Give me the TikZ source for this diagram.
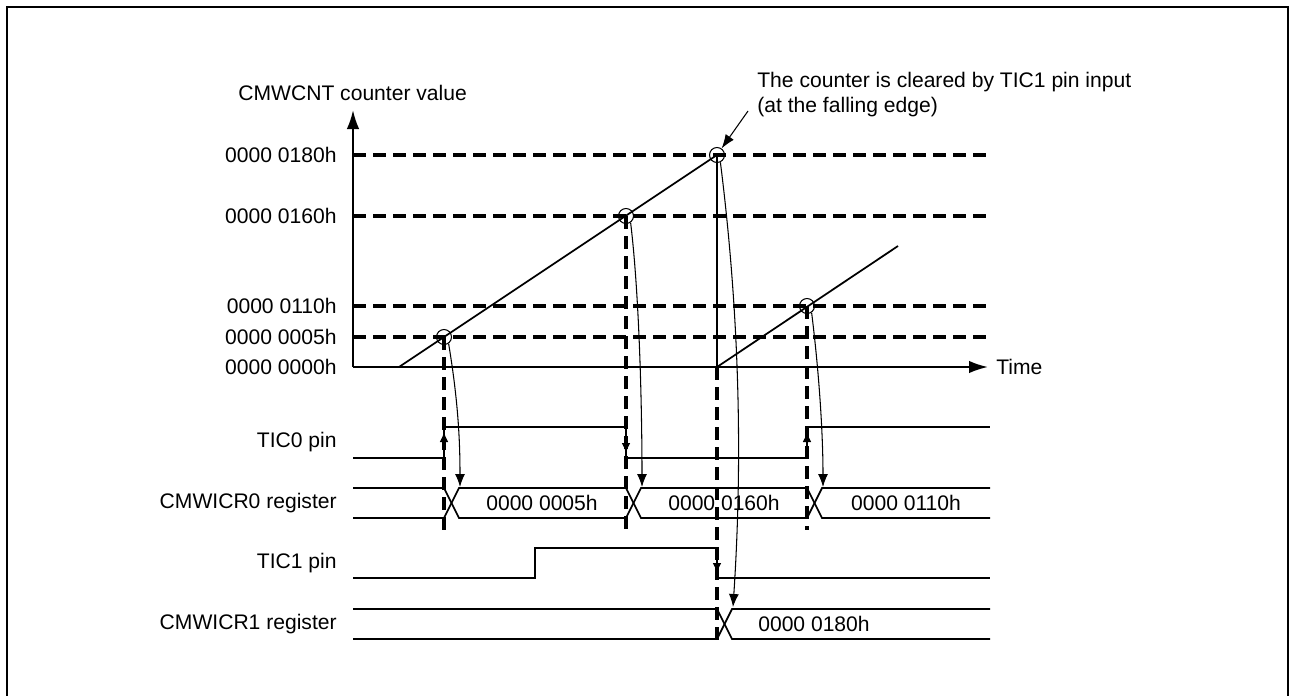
\documentclass[tikz,border=0pt]{standalone}
\usepackage{fontspec}
\setmainfont{Liberation Sans}
\usetikzlibrary{arrows.meta,positioning,calc}
\tikzset{
  lbl/.style={font=\fontsize{12}{14.2}\selectfont, inner sep=0pt},
  leftlbl/.style={lbl, anchor=east},
  sig/.style={line width=1pt},
  guide/.style={line width=2pt, dash pattern=on 2.6mm off 1.4mm},
  axisarrow/.style={line width=1.2pt, -{Latex[length=3.8mm,width=2.5mm]}},
  edgearrow/.style={line width=1.4pt, -{Latex[length=2mm,width=1.8mm]}},
  curvearrow/.style={line width=0.6pt, -{Latex[length=2.6mm,width=2mm]}},
  hitc/.style={draw, circle, line width=0.6pt, minimum size=3mm, inner sep=0pt}
}
\begin{document}
\begin{tikzpicture}[x=0.2mm, y=-0.2mm]
  \useasboundingbox (0,0) rectangle (1291,695);
  \draw[line width=0.4mm] (7,697) -- (7,7) -- (1288,7) -- (1288,697);

  % axes
  \coordinate (origin) at (353,367);
  \draw[axisarrow] (origin) -- (353,110);
  \draw[axisarrow] (origin) -- (988,367);
  \node[lbl, anchor=west] (yname) at (238,93) {CMWCNT counter value};
  \node[lbl, anchor=west] (xname) at (996,367) {Time};
  \node[leftlbl] (v180) at (337,155) {0000 0180h};
  \node[leftlbl] (v160) at (337,216) {0000 0160h};
  \node[leftlbl] (v110) at (337,306) {0000 0110h};
  \node[leftlbl] (v005) at (337,337) {0000 0005h};
  \node[leftlbl] (v000) at (337,367) {0000 0000h};

  % level guides
  \foreach \yy in {155,216,306,337}
    \draw[guide] (353,\yy) -- (990,\yy);
  \draw[guide] (444,337) -- (444,533);
  \draw[guide] (626,216) -- (626,533);
  \draw[guide] (807,306) -- (807,530);
  \draw[guide] (717,367) -- (717,640);

  % counter
  \draw[sig] (399,367) -- (717,155) -- (717,367) -- (898,246);
  \node[hitc] (h005) at (444,337) {};
  \node[hitc] (h160) at (626,216) {};
  \node[hitc] (h180) at (717,155) {};
  \node[hitc] (h110) at (807,306) {};

  % signal names
  \node[leftlbl] (tic0) at (337,442) {TIC0 pin};
  \node[leftlbl] (icr0) at (337,503) {CMWICR0 register};
  \node[leftlbl] (tic1) at (337,563) {TIC1 pin};
  \node[leftlbl] (icr1) at (337,624) {CMWICR1 register};

  % TIC0 pin
  \draw[sig] (353,458) -- (444,458) -- (444,427) -- (626,427) -- (626,458)
    -- (807,458) -- (807,427) -- (990,427);
  \draw[edgearrow] (444,458) -- (444,432);
  \draw[edgearrow] (626,427) -- (626,453);
  \draw[edgearrow] (807,458) -- (807,432);

  % CMWICR0 register
  \draw[sig] (353,488) -- (444,488) -- (459,518) -- (626,518) -- (641,488)
    -- (807,488) -- (822,518) -- (990,518);
  \draw[sig] (353,518) -- (444,518) -- (459,488) -- (626,488) -- (641,518)
    -- (807,518) -- (822,488) -- (990,488);
  \node[lbl] (d005) at (542,503) {0000 0005h};
  \node[lbl] (d160) at (724,503) {0000 0160h};
  \node[lbl] (d110) at (906,503) {0000 0110h};

  % TIC1 pin
  \draw[sig] (353,578) -- (535,578) -- (535,548) -- (717,548) -- (717,578) -- (990,578);
  \draw[edgearrow] (717,548) -- (717,573);

  % CMWICR1 register
  \draw[sig] (353,609) -- (717,609) -- (732,639) -- (990,639);
  \draw[sig] (353,639) -- (717,639) -- (732,609) -- (990,609);
  \node[lbl] (d180) at (814,624) {0000 0180h};

  % capture arrows
  \coordinate (x005) at (460,487);
  \coordinate (x160) at (642,487);
  \coordinate (x110) at (823,487);
  \coordinate (x180) at (733,607);
  \draw[curvearrow] (h005.-55) .. controls (458,400) and (460,440) .. (x005);
  \draw[curvearrow] (h160.-55) .. controls (640,300) and (642,420) .. (x160);
  \draw[curvearrow] (h110.-55) .. controls (820,380) and (823,440) .. (x110);
  \draw[curvearrow] (h180.-65) .. controls (744,350) and (740,500) .. (x180);

  % note
  \node[lbl, anchor=west, align=left] (note) at (757,95)
    {The counter is cleared by TIC1 pin input\\(at the falling edge)};
  \coordinate (notetail) at (748,111);
  \draw[line width=0.6pt, -{Latex[length=2.8mm,width=2mm]}] (notetail) -- (h180.55);
\end{tikzpicture}
\end{document}
